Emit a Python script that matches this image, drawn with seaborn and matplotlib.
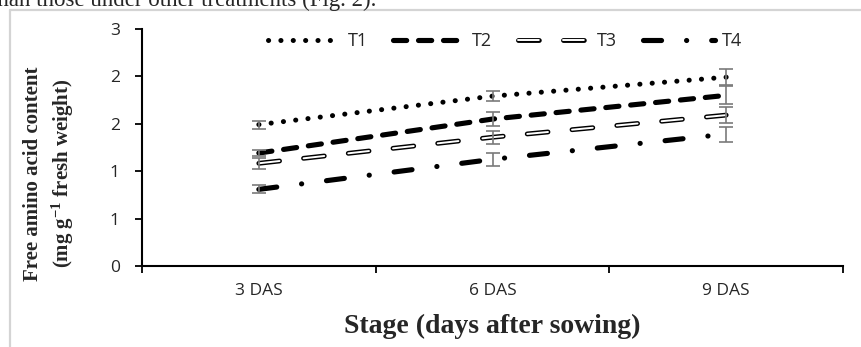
import matplotlib
matplotlib.use('Agg')
import matplotlib.pyplot as plt
import seaborn as sns
from matplotlib.lines import Line2D
from matplotlib.ticker import FixedLocator, NullFormatter

# data
stages = ['3 DAS', '6 DAS', '9 DAS']
t1 = [1.79, 2.15, 2.39]
t2 = [1.43, 1.86, 2.16]
t3 = [1.30, 1.63, 1.91]
t4 = [0.97, 1.35, 1.67]
t1_err = [0.05, 0.06, 0.10]
t2_err = [0.04, 0.09, 0.115]
t3_err = [0.07, 0.085, 0.10]
t4_err = [0.05, 0.085, 0.095]
series_names = ['T1', 'T2', 'T3', 'T4']
y_ticks = [0, 0.6, 1.2, 1.8, 2.4, 3.0]
y_tick_labels = ['0', '1', '1', '2', '2', '3']

sns.set_style('ticks')
plt.rcParams['font.family'] = ['Open Sans', 'DejaVu Sans']
plt.rcParams['lines.scale_dashes'] = False
plt.rcParams['mathtext.fontset'] = 'custom'
plt.rcParams['mathtext.rm'] = 'Liberation Serif:bold'
plt.rcParams['mathtext.it'] = 'Liberation Serif:bold'
plt.rcParams['mathtext.bf'] = 'Liberation Serif:bold'
plt.rcParams['mathtext.default'] = 'rm'

fig, ax = plt.subplots(figsize=(8.61, 3.47), dpi=100)
fig.subplots_adjust(left=142 / 861, right=843 / 861, bottom=81 / 347, top=318 / 347)

# line styles (dash patterns in points)
styles = {
    'T1': dict(lw=3.6, linestyle=(0, (0.1, 8.8))),
    'T2': dict(lw=3.7, linestyle=(0, (9.5, 8.5))),
    'T3': dict(lw=3.5, linestyle=(0, (15, 17.4))),
    'T4': dict(lw=3.7, linestyle=(0, (13, 18, 0.1, 18))),
}

handles = []
for name, vals in zip(series_names, [t1, t2, t3, t4]):
    sns.lineplot(x=stages, y=vals, ax=ax, color='black', sort=False, errorbar=None,
                 dash_capstyle='round', zorder=2, **styles[name])
    line = ax.lines[-1]
    if name == 'T3':
        # hollow dashes: white core over the black dash
        sns.lineplot(x=stages, y=vals, ax=ax, color='white', sort=False, errorbar=None,
                     dash_capstyle='round', lw=1.4, linestyle=styles['T3']['linestyle'], zorder=3)
        handles.append((line, ax.lines[-1]))
    else:
        handles.append(line)

for vals, errs in zip([t1, t2, t3, t4], [t1_err, t2_err, t3_err, t4_err]):
    ax.errorbar(stages, vals, yerr=errs, fmt='none', ecolor='#7a7a7a',
                elinewidth=1.2, capsize=4.8, capthick=1.2, zorder=4)

ax.set_xlim(-0.5, 2.5)
ax.set_ylim(0, 3)
ax.set_yticks(y_ticks)
ax.set_yticklabels(y_tick_labels)
ax.xaxis.set_minor_locator(FixedLocator([-0.5, 0.5, 1.5, 2.5]))
ax.xaxis.set_minor_formatter(NullFormatter())
ax.tick_params(axis='x', which='major', length=0, pad=12, labelsize=12.5, labelcolor='#262626')
ax.tick_params(axis='x', which='minor', length=5, width=1.3, direction='out', color='black')
ax.tick_params(axis='y', length=5, width=1.3, direction='out', pad=11, labelsize=12.5,
               labelcolor='#262626', color='black')
sns.despine(ax=ax)
for sp in ['left', 'bottom']:
    ax.spines[sp].set_linewidth(1.5)
    ax.spines[sp].set_color('black')

ax.set_xlabel('Stage (days after sowing)', fontfamily='Liberation Serif', fontweight='bold',
              fontsize=20)
ax.xaxis.set_label_coords(0.5, -0.2)
ax.set_ylabel('Free amino acid content\n(mg g$^{-1}$ fresh weight)', fontfamily='Liberation Serif',
              fontweight='bold', fontsize=15, linespacing=1.35, ha='center', va='center')
ax.yaxis.set_label_coords(-0.132, 0.39)

ax.legend(handles=handles, labels=series_names, ncol=4, loc='center',
          bbox_to_anchor=(0.518, 0.95), frameon=False, handlelength=4.0,
          handletextpad=0.4, columnspacing=1.4, fontsize=13, labelcolor='#262626')

# page fragment and frame around the chart
fig.text(-0.010, 1 - 6 / 347, 'than those under other treatments (Fig. 2).',
         fontfamily='Liberation Serif', fontsize=16.5, va='baseline', ha='left')
fig.add_artist(Line2D([10 / 861, 1], [1 - 10 / 347, 1 - 10 / 347], color='#d4d4d4', lw=1.6,
                      transform=fig.transFigure))
fig.add_artist(Line2D([10 / 861, 10 / 861], [0, 1 - 10 / 347], color='#d4d4d4', lw=1.6,
                      transform=fig.transFigure))

fig.savefig('out.png', dpi=100)
